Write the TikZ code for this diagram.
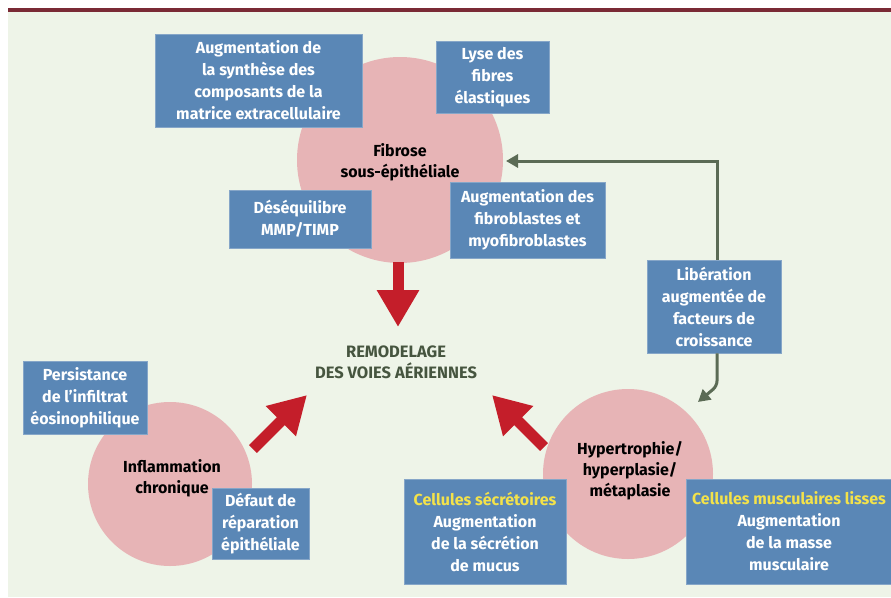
\documentclass[tikz,border=0pt]{standalone}
\usepackage{fontspec}
\setmainfont{Fira Sans}
\usetikzlibrary{arrows.meta,calc}
\definecolor{bg}{HTML}{EEF4E8}
\definecolor{topline}{HTML}{7A2A35}
\definecolor{boxblue}{HTML}{5A87B6}
\definecolor{boxedge}{HTML}{86A6C8}
\definecolor{pink}{HTML}{E7B4B6}
\definecolor{redarr}{HTML}{C41E2A}
\definecolor{greenarr}{HTML}{5B6B55}
\definecolor{yell}{HTML}{F3E24A}
\definecolor{titlec}{HTML}{46553F}
\begin{document}
\begin{tikzpicture}[x=1pt,y=-1pt,
  box/.style={fill=boxblue, draw=boxedge, line width=0.8pt, text=white,
    font=\bfseries\fontsize{16}{22}\selectfont, align=center, inner sep=0pt},
  circ/.style={circle, fill=pink, inner sep=0pt},
  ctext/.style={text=black, font=\bfseries\fontsize{16}{21}\selectfont, align=center},
  redarrow/.style={draw=redarr, line width=11pt,
    -{Triangle[width=40pt,length=37pt]}},
  greenarrow/.style={draw=greenarr, line width=3pt,
    -{Triangle[width=13pt,length=12pt]}}]
\useasboundingbox (0,0) rectangle (891,597);
\fill[white] (0,0) rectangle (891,597);
\fill[bg] (8,12) rectangle (891,597);
\fill[topline] (8,8) rectangle (891,12);

% circles
\node[circ, minimum size=206pt] (fib) at (400,160) {};
\node[ctext] (fibt) at (400,162) {Fibrose\\sous-épithéliale};
\node[circ, minimum size=164pt] (inf) at (170,484) {};
\node[ctext] (inft) at (172,478) {Inflammation\\chronique};
\node[circ, minimum size=170pt] (hyp) at (628,474) {};
\node[ctext] (hypt) at (630,471) {Hypertrophie/\\hyperplasie/\\métaplasie};

% central text
\node[text=titlec, font=\bfseries\fontsize{16.5}{21}\selectfont, align=center] (rem) at (396,362) {REMODELAGE\\DES VOIES AÉRIENNES};

% boxes
\node[box, minimum width=207pt, minimum height=93pt] (syn) at (258.5,80.5)
  {Augmentation de\\la synthèse des\\composants de la\\matrice extracellulaire};
\node[box, minimum width=113pt, minimum height=72pt] (lyse) at (492.5,77)
  {Lyse des\\fibres\\élastiques};
\node[box, minimum width=142pt, minimum height=58pt] (deseq) at (300,219)
  {Déséquilibre\\MMP/TIMP};
\node[box, minimum width=155pt, minimum height=76pt] (fibro) at (527.5,220)
  {Augmentation des\\fibroblastes et\\myofibroblastes};
\node[box, minimum width=134pt, minimum height=93pt] (lib) at (714,306.5)
  {Libération\\augmentée de\\facteurs de\\croissance};
\node[box, minimum width=124pt, minimum height=73pt] (pers) at (85,397.5)
  {Persistance\\de l’infiltrat\\éosinophilique};
\node[box, minimum width=97pt, minimum height=71pt] (def) at (260.5,523.5)
  {Défaut de\\réparation\\épithéliale};
\node[box, minimum width=162pt, minimum height=105pt] (secr) at (485,531.5)
  {\textcolor{yell}{Cellules sécrétoires}\\Augmentation\\de la sécrétion\\de mucus};
\node[box, minimum width=206pt, minimum height=105pt] (musc) at (789,531.5)
  {\textcolor{yell}{Cellules musculaires lisses}\\Augmentation\\de la masse\\musculaire};

% red arrows
\coordinate (d1) at (398,262);
\coordinate (d2) at (398,327);
\coordinate (l1) at (253,449);
\coordinate (l2) at (307,395);
\coordinate (r1) at (544,447);
\coordinate (r2) at (492,395);
\draw[redarrow] (d1) -- (d2);
\draw[redarrow] (l1) -- (l2);
\draw[redarrow] (r1) -- (r2);

% green arrows
\coordinate (fibin) at (506,161);
\coordinate (bend) at (717,386);
\coordinate (hypin) at (698,402);
\draw[greenarrow] (lib.north -| bend) |- (fibin);
\draw[greenarrow, rounded corners=5pt] (lib.south -| bend) -- (bend) -- (hypin);
\end{tikzpicture}
\end{document}
